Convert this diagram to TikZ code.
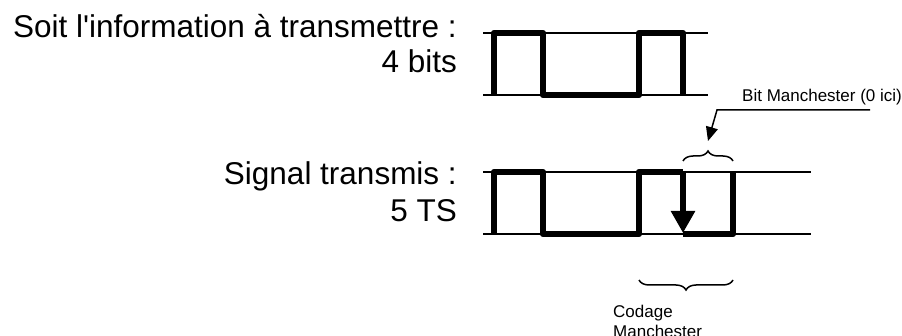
\documentclass[tikz,border=0pt]{standalone}
\usepackage{fontspec}
\setmainfont{Liberation Sans}[Ligatures=TeXOff]
\usetikzlibrary{arrows.meta,decorations.pathreplacing}
\begin{document}
\begin{tikzpicture}[x=1pt,y=-1pt,
  rail/.style={line width=1.5pt},
  wave/.style={line width=6.5pt,line join=round},
  big/.style={font=\fontsize{31.5}{36}\selectfont,inner sep=0pt},
  small/.style={font=\fontsize{17}{19}\selectfont,inner sep=0pt},
  bracket/.style={line width=1.5pt,decorate,decoration={brace,amplitude=10pt}}]
\useasboundingbox (0,0) rectangle (902,336);

% left-hand captions
\node[big,anchor=base east] (info)  at (457,38)  {Soit l'information à transmettre :};
\node[big,anchor=base east] (nbits) at (457,73)  {4 bits};
\node[big,anchor=base east] (sig)   at (457,185) {Signal transmis :};
\node[big,anchor=base east] (nts)   at (457,222) {5 TS};

% reference rails
\draw[rail] (483,33) -- (708,33);
\draw[rail] (483,95) -- (708,95);
\draw[rail] (483,172) -- (811,172);
\draw[rail] (483,234) -- (811,234);

% information: 4 bits
\draw[wave] (494,95) -- (494,33) -- (543,33) -- (543,95) -- (639,95)
  -- (639,33) -- (683,33) -- (683,95);

% transmitted signal: 5 TS
\coordinate (mtop) at (683,172);
\coordinate (mbot) at (683,233);
\draw[wave] (494,234) -- (494,172) -- (543,172) -- (543,234) -- (639,234)
  -- (639,172) -- (mtop);
\draw[line width=6.5pt,-{Triangle[length=22pt,width=23pt]}] (mtop) -- (mbot);
\draw[wave] (683,234) -- (733,234) -- (733,172);

% Manchester bit brace and its label
\draw[bracket] (683,161) -- (733,161);
\coordinate (btip) at (708,141);
\node[small,anchor=base west] (bitlbl) at (742,102) {Bit Manchester (0 ici)};
\coordinate (lstart) at (870,110);
\coordinate (lbend) at (717,110);
\draw[rail,-{Triangle[length=14pt,width=12pt]}] (lstart) -- (lbend) -- (btip);

% Manchester coding brace
\draw[bracket] (733,280) -- (639,280);
\node[small,anchor=base west] (codage) at (613,318) {Codage};
\node[small,anchor=base west] (manch)  at (613,338) {Manchester};
\end{tikzpicture}
\end{document}
